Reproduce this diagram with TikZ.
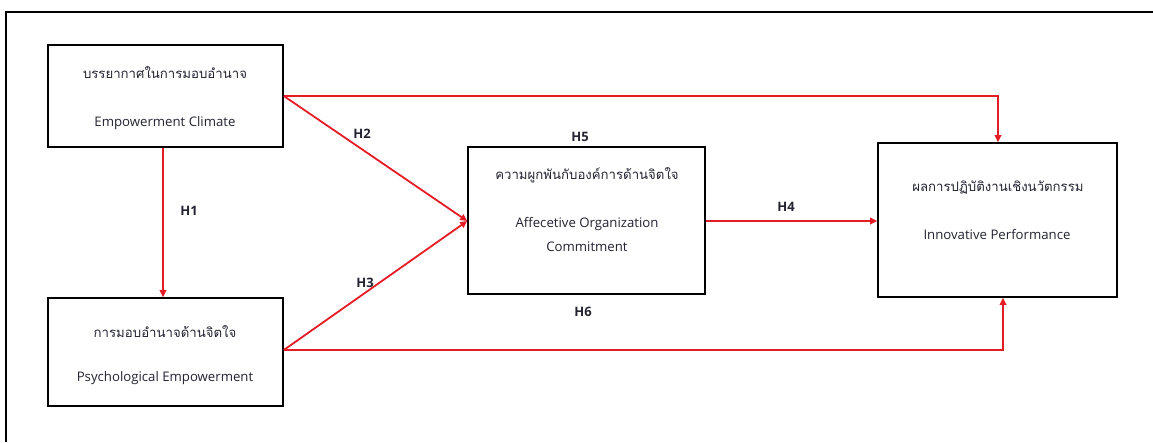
\documentclass[tikz,border=0pt]{standalone}
\usepackage{fontspec}
\setmainfont{Open Sans}
\newfontfamily\thaifont[Script=Thai]{Loma}
\usetikzlibrary{arrows.meta}
\definecolor{arrred}{RGB}{228,28,36}
\definecolor{txt}{RGB}{35,35,50}
\tikzset{
  x=1pt, y=-1pt,
  boxnode/.style={draw=black, line width=1.6pt, inner sep=0pt},
  thai/.style={font=\thaifont\fontsize{13.2}{16}\selectfont, text=txt},
  eng/.style={font=\fontsize{13.2}{24}\selectfont, text=txt, align=center},
  hlab/.style={font=\bfseries\fontsize{13}{15}\selectfont, text=txt},
  conn/.style={draw=arrred, line width=1.8pt, -{Triangle[length=7pt,width=6.5pt]}},
}
\begin{document}
\begin{tikzpicture}
\useasboundingbox (0,0) rectangle (1153,442);
% outer frame (partially outside)
\draw[black, line width=1.2pt] (1153,12) -- (6,12) -- (6,442);
% boxes
\node[boxnode, minimum width=235pt, minimum height=102pt] (A) at (165.5,96) {};
\node[boxnode, minimum width=235pt, minimum height=108pt] (B) at (165.5,352) {};
\node[boxnode, minimum width=237pt, minimum height=147pt] (C) at (586.5,220.5) {};
\node[boxnode, minimum width=239pt, minimum height=154pt] (D) at (997.5,220) {};
% texts
\node[thai] (At) at (165,73) {บรรยากาศในการมอบอำนาจ};
\node[eng] (Ae) at (165,123) {Empowerment Climate};
\node[thai] (Bt) at (165,332) {การมอบอำนาจด้านจิตใจ};
\node[eng] (Be) at (165,378) {Psychological Empowerment};
\node[thai] (Ct) at (587,175) {ความผูกพันกับองค์การด้านจิตใจ};
\node[eng] (Ce) at (587,235) {Affecetive Organization\\Commitment};
\node[thai] (Dt) at (998,188) {ผลการปฏิบัติงานเชิงนวัตกรรม};
\node[eng] (De) at (997,235) {Innovative Performance};
% coordinates
\coordinate (Aright) at (A.east |- 0,96);
\coordinate (Bright) at (B.east |- 0,350);
\coordinate (Cleft) at (C.west |- 0,221);
\coordinate (Dtop) at (998,143);
\coordinate (Dbot) at (1003,297);
\coordinate (tr) at (998,96);
\coordinate (br) at (1003,350);
% connectors
\draw[conn] (A.south -| 163,0) -- (B.north -| 163,0);
\draw[conn] (Aright) -- (Cleft);
\draw[conn] (Bright) -- (Cleft);
\draw[conn] (C.east |- 0,221) -- (D.west |- 0,221);
\draw[conn] (Aright) -- (tr) -- (D.north -| Dtop);
\draw[conn] (Bright) -- (br) -- (D.south -| Dbot);
% labels
\node[hlab] (H1) at (189,211) {H1};
\node[hlab] (H2) at (362,134) {H2};
\node[hlab] (H3) at (365,283) {H3};
\node[hlab] (H4) at (786,207) {H4};
\node[hlab] (H5) at (580,137) {H5};
\node[hlab] (H6) at (583,312) {H6};
\end{tikzpicture}
\end{document}
